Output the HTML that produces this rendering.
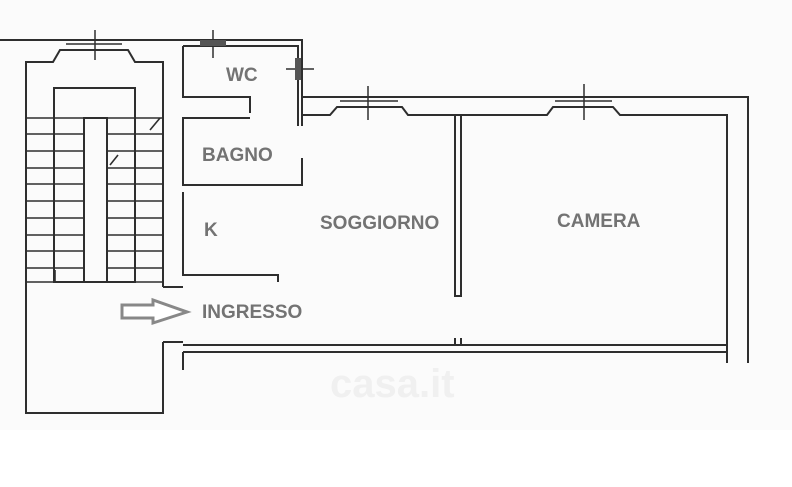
<!DOCTYPE html>
<html><head><meta charset="utf-8"><style>
html,body{margin:0;padding:0;background:#fff;}
svg{display:block;}
text{font-family:"Liberation Sans",sans-serif;font-weight:bold;fill:#737373;font-size:19px;}
</style></head><body>
<svg width="792" height="487" viewBox="0 0 792 487" xmlns="http://www.w3.org/2000/svg">
<rect x="0" y="0" width="792" height="430" fill="#fbfbfb"/>
<rect x="0" y="430" width="792" height="57" fill="#fff"/>
<g fill="none" stroke="#2e2e2e" stroke-width="2">
<polyline points="0,40 302,40 302,97 748,97 748,363"/>
<polyline points="163,287 163,62 135,62 128,50 60,50 53,62 26,62 26,413 163,413 163,342"/>
<g stroke-width="1.6">
<line x1="26" y1="118" x2="163" y2="118"/><line x1="26" y1="134" x2="163" y2="134"/>
<line x1="26" y1="151" x2="163" y2="151"/><line x1="26" y1="168" x2="163" y2="168"/>
<line x1="26" y1="184" x2="163" y2="184"/><line x1="26" y1="201" x2="163" y2="201"/>
<line x1="26" y1="218" x2="163" y2="218"/><line x1="26" y1="235" x2="163" y2="235"/>
<line x1="26" y1="251" x2="163" y2="251"/><line x1="26" y1="268" x2="163" y2="268"/>
<line x1="26" y1="282" x2="163" y2="282"/>
<line x1="150" y1="130" x2="160" y2="118"/><line x1="110" y1="165" x2="118" y2="155"/>
<line x1="55" y1="270" x2="55" y2="282"/>
</g>
<rect x="54" y="88" width="81" height="194"/>
<rect x="84" y="118" width="23" height="164" fill="#fbfbfb"/>
<line x1="163" y1="287" x2="183" y2="287"/>
<line x1="163" y1="342" x2="183" y2="342"/>
<line x1="183" y1="352" x2="183" y2="370"/>
<polyline points="183,46 298,46 298,126"/>
<polyline points="183,46 183,97 250,97 250,113"/>
<polyline points="250,118 183,118 183,185 302,185 302,158"/>
<polyline points="183,192 183,275 278,275 278,282"/>
<polyline points="302,97 302,126"/>
<polyline points="302,115 330,115 337,107 402,107 408,115 547,115 553,107 613,107 620,115 727,115 727,363"/>
<polyline points="455,115 455,296 461,296 461,115"/>
<line x1="183" y1="345" x2="727" y2="345"/>
<line x1="183" y1="352" x2="727" y2="352"/>
<line x1="455" y1="338" x2="455" y2="345"/><line x1="461" y1="338" x2="461" y2="345"/>
</g>
<g stroke="#2e2e2e" stroke-width="1.5" fill="none">
<line x1="66" y1="44" x2="122" y2="44"/><line x1="95" y1="30" x2="95" y2="60"/>
<line x1="340" y1="101" x2="398" y2="101"/><line x1="368" y1="86" x2="368" y2="120"/>
<line x1="555" y1="101" x2="612" y2="101"/><line x1="584" y1="84" x2="584" y2="120"/>
<line x1="286" y1="69" x2="314" y2="69"/><line x1="213" y1="30" x2="213" y2="58"/>
</g>
<rect x="200" y="40" width="26" height="6" fill="#555"/>
<rect x="295" y="58" width="6" height="22" fill="#555"/>
<polygon points="122,305 153,305 153,300 187,312 153,323 153,318 122,318" fill="#fff" stroke="#888" stroke-width="3"/>
<text x="226" y="81">WC</text>
<text x="202" y="161">BAGNO</text>
<text x="204" y="236">K</text>
<text x="202" y="318">INGRESSO</text>
<text x="320" y="229">SOGGIORNO</text>
<text x="557" y="227">CAMERA</text>
<text x="330" y="397" style="fill:#f0f0f0;font-size:40px">casa.it</text>
</svg>
</body></html>
